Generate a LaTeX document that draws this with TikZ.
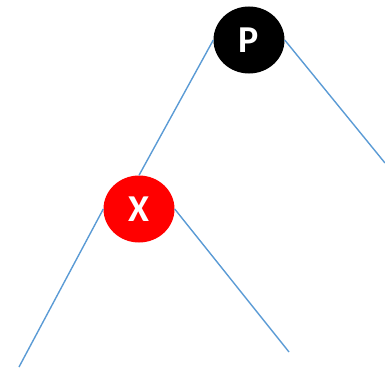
\documentclass[tikz,border=0pt]{standalone}
\usepackage{fontspec}
\setmainfont{Carlito}
\usepackage{tikz}
\usetikzlibrary{shapes.geometric}
\definecolor{edgeblue}{RGB}{91,155,213}
\definecolor{nodered}{RGB}{255,0,0}

\begin{document}
\begin{tikzpicture}[x=1pt,y=-1pt,
    vertex/.style={ellipse,minimum width=71pt,minimum height=67pt,inner sep=0pt,text=white,font=\fontsize{38}{38}\selectfont\bfseries},
    edge/.style={edgeblue,line width=1.4pt}]
        \useasboundingbox (0,0) rectangle (385,369);
        \node[vertex,fill=black] (P) at (249,40) {P};
        \node[vertex,fill=nodered] (X) at (139,209) {X};
        \coordinate (pright) at (385,163);
        \coordinate (xleft) at (19,367);
        \coordinate (xright) at (289,352);
        \draw[edge] (P.west) -- (X.north);
        \draw[edge] (P.east) -- (pright);
        \draw[edge] (X.west) -- (xleft);
        \draw[edge] (X.east) -- (xright);
      \end{tikzpicture}
\end{document}
